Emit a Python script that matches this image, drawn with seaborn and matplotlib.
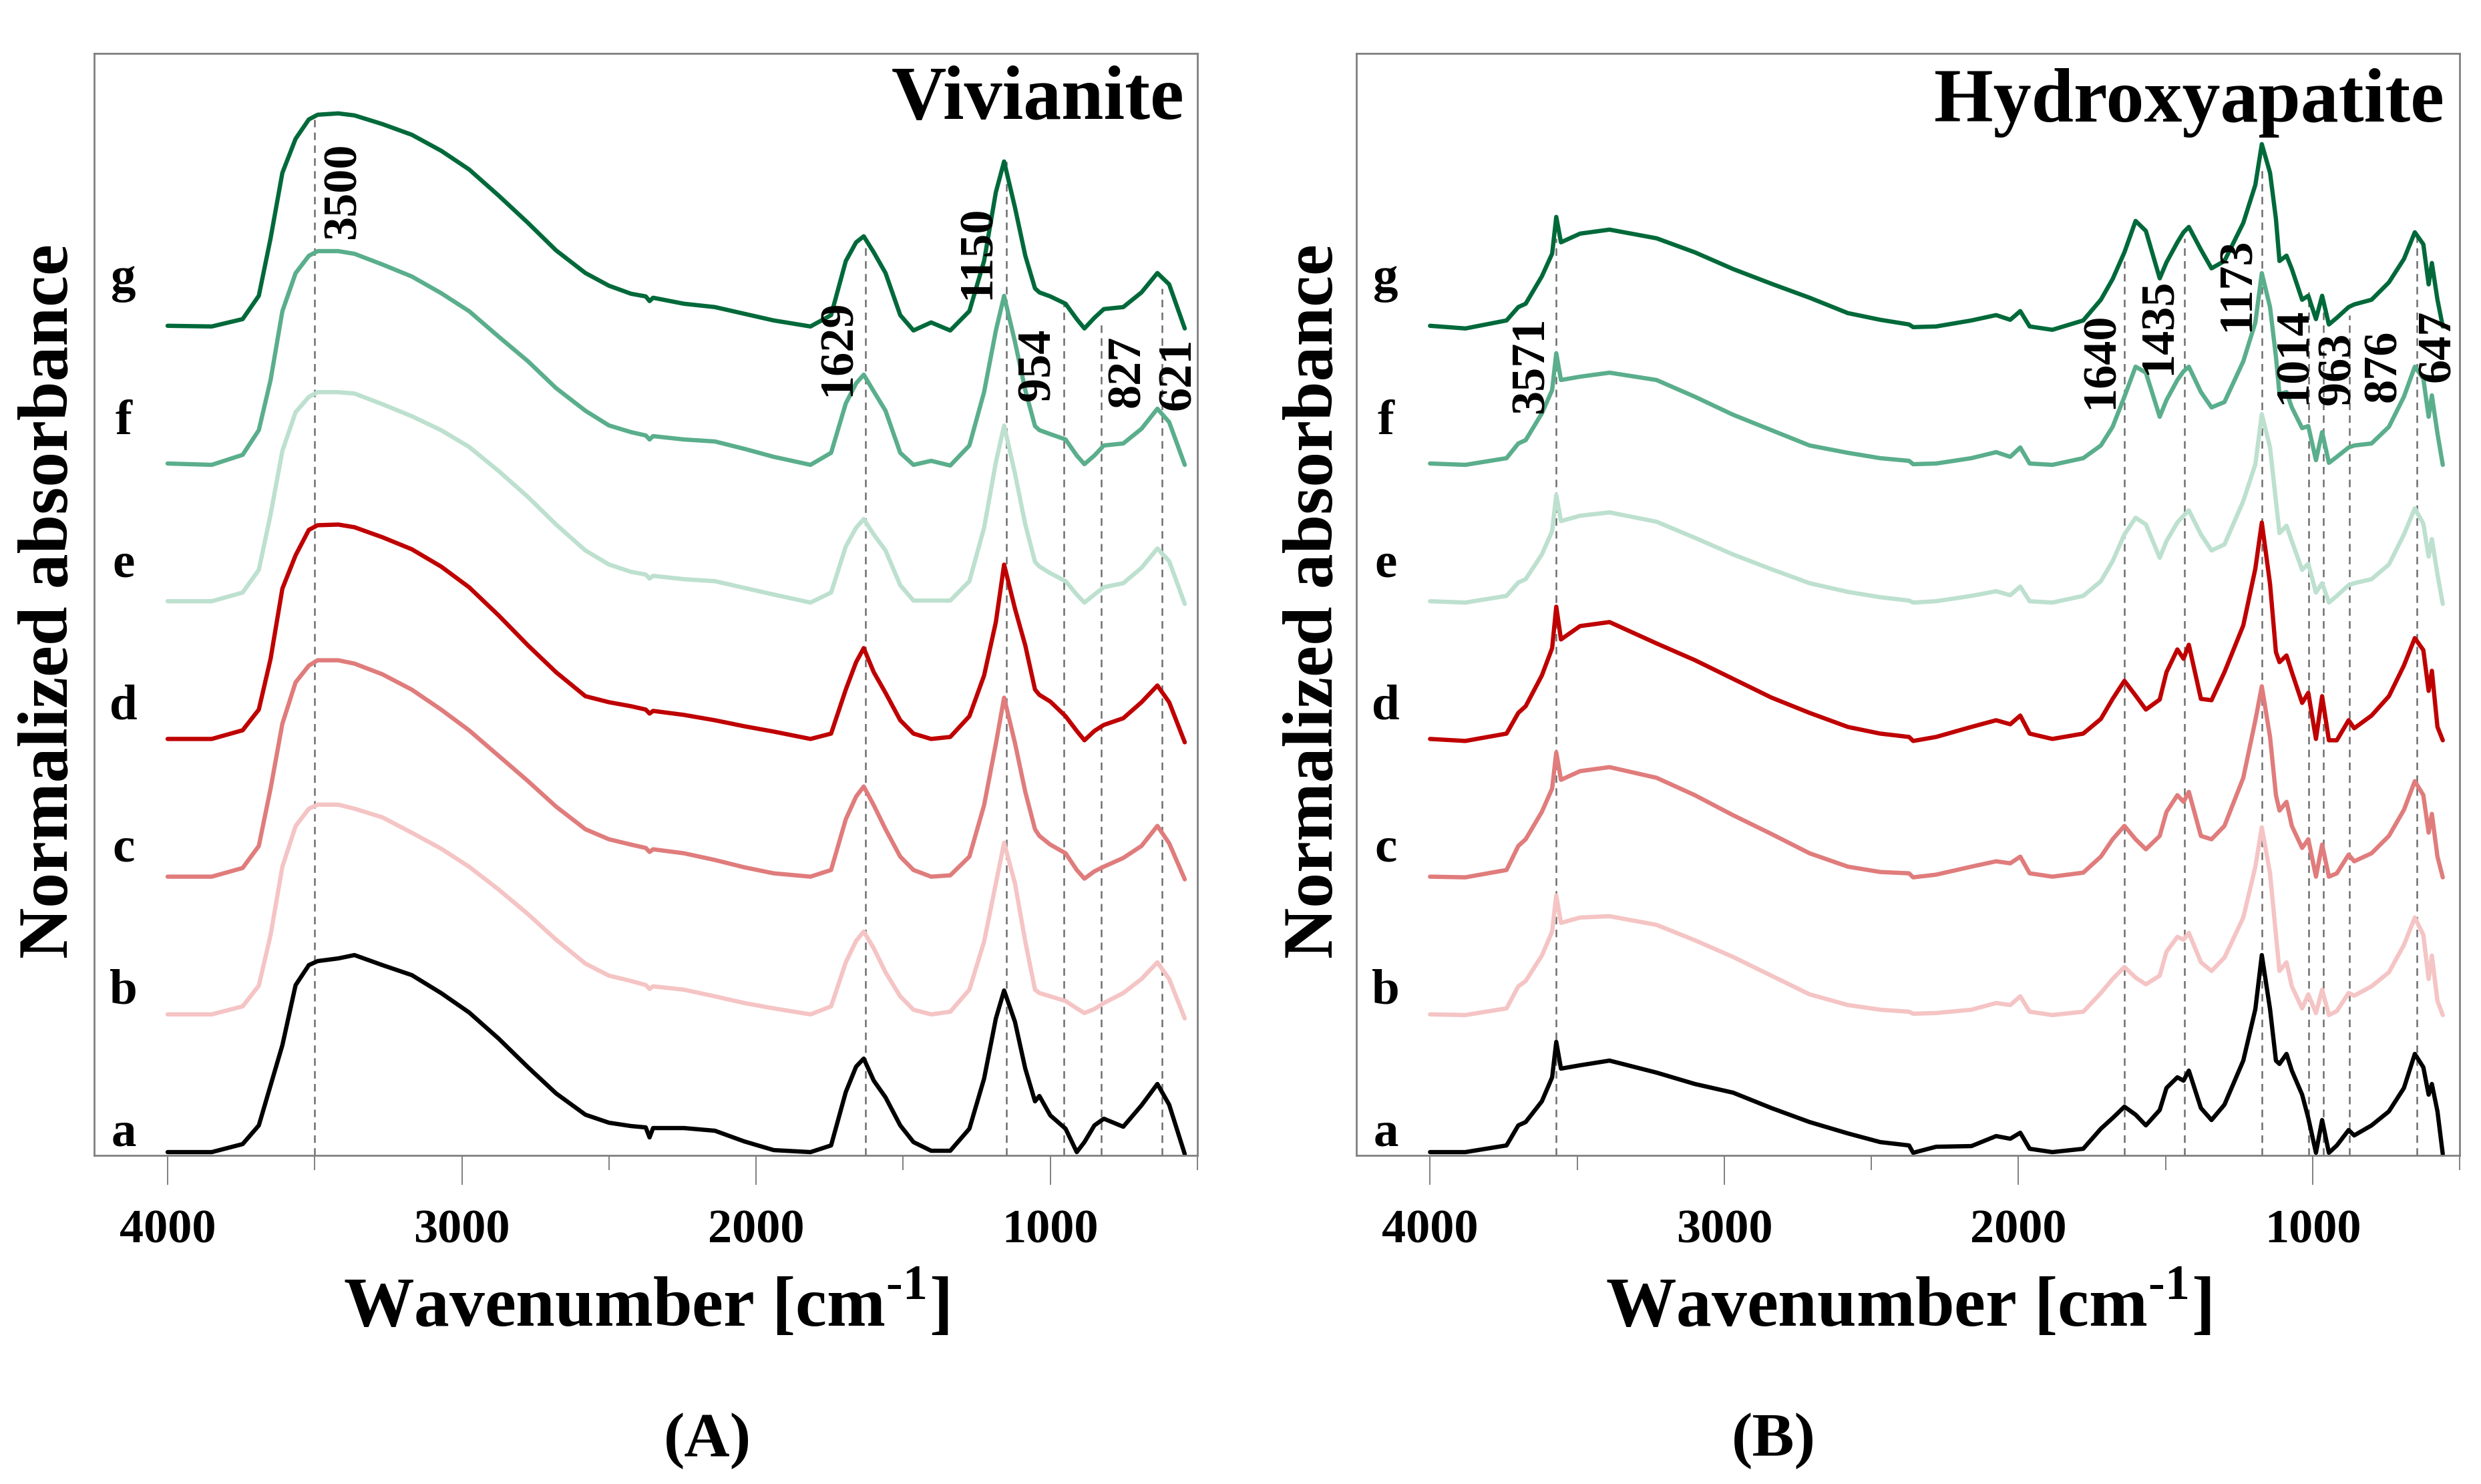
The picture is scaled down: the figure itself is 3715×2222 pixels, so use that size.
import numpy as np
import pandas as pd
import matplotlib
matplotlib.use("Agg")
import matplotlib.pyplot as plt
import seaborn as sns

# FTIR spectra. Absorbance in arbitrary units, each curve
# relative to its own baseline (the stacking offset is added when plotting).
samples = ["a", "b", "c", "d", "e", "f", "g"]
colors = ["#000000", "#f5c4c4", "#e07c7c", "#bf0000", "#bde0cf", "#5aae8c", "#00693a"]

# ---- (A) Vivianite ----
viv_wn = [4000, 3850, 3745, 3690, 3650, 3610, 3565, 3520, 3490, 3420, 3365, 3270,
          3170, 3070, 2975, 2875, 2775, 2680, 2580, 2500, 2425, 2375, 2362, 2350,
          2245, 2140, 2040, 1940, 1815, 1745, 1695, 1660, 1634, 1600, 1560, 1510,
          1465, 1405, 1340, 1275, 1225, 1185, 1157, 1120, 1085, 1052, 1037, 1000,
          948, 910, 884, 850, 818, 752, 690, 636, 596, 543]
viv_a = [0, 0, 12, 40, 100, 160, 250, 280, 286, 290, 295, 280,
         265, 238, 209, 170, 127, 88, 56, 44, 39, 37, 22, 36,
         36, 32, 16, 3, 0, 10, 90, 128, 140, 107, 82, 40,
         15, 2, 2, 35, 110, 200, 242, 195, 125, 76, 84, 55,
         35, 0, 15, 40, 50, 38, 70, 102, 71, -3]
viv_b = [0, 0, 12, 43, 119, 221, 282, 308, 314, 314, 308, 295,
         272, 248, 221, 187, 150, 112, 76, 58, 50, 44, 38, 42,
         37, 27, 17, 9, 0, 12, 78, 110, 124, 99, 63, 27,
         7, 0, 4, 37, 109, 196, 257, 196, 109, 37, 32, 27,
         20, 9, 2, 8, 17, 32, 53, 78, 53, -6]
viv_c = [0, 0, 13, 46, 132, 229, 291, 316, 324, 324, 319, 303,
         280, 250, 219, 181, 143, 105, 71, 56, 48, 43, 37, 41,
         35, 25, 14, 5, 0, 10, 86, 120, 135, 107, 71, 30,
         10, 0, 2, 30, 107, 199, 268, 200, 127, 71, 61, 48,
         35, 10, -3, 8, 15, 28, 46, 76, 50, -4]
viv_d = [0, 0, 13, 44, 120, 225, 275, 313, 320, 321, 317, 302,
         284, 258, 227, 185, 140, 100, 64, 55, 49, 44, 38, 42,
         36, 28, 19, 11, 0, 8, 74, 115, 136, 100, 69, 28,
         8, 0, 3, 34, 95, 175, 261, 195, 140, 74, 66, 56,
         34, 12, -2, 12, 21, 31, 55, 80, 55, -5]
viv_e = [0, 0, 13, 47, 130, 225, 283, 306, 313, 313, 311, 295,
         277, 256, 231, 195, 156, 115, 76, 55, 44, 40, 34, 38,
         33, 30, 20, 10, -2, 13, 82, 110, 123, 100, 76, 24,
         1, 1, 1, 30, 110, 208, 263, 191, 115, 59, 52, 42,
         30, 10, -2, 10, 21, 27, 50, 79, 60, -4]
viv_f = [0, -2, 13, 50, 125, 228, 285, 311, 318, 318, 314, 298,
         280, 255, 228, 190, 153, 113, 79, 57, 47, 42, 36, 41,
         36, 33, 22, 10, -2, 16, 90, 120, 133, 108, 79, 16,
         -2, 4, -3, 27, 107, 199, 251, 182, 110, 56, 50, 44,
         36, 12, -1, 12, 27, 30, 52, 82, 62, -2]
viv_g = [0, -1, 10, 45, 131, 229, 280, 309, 316, 318, 315, 302,
         286, 262, 234, 195, 154, 113, 79, 60, 48, 44, 37, 42,
         33, 28, 18, 8, -1, 16, 97, 125, 134, 110, 79, 16,
         -7, 5, -7, 22, 97, 200, 246, 177, 105, 56, 50, 44,
         33, 10, -4, 12, 25, 28, 50, 79, 62, -4]
viv_peaks = [3500, 1629, 1150, 954, 827, 621]

# ---- (B) Hydroxyapatite ----
hap_wn = [4000, 3880, 3740, 3700, 3675, 3620, 3585, 3571, 3555, 3490, 3390, 3230,
          3100, 2970, 2840, 2710, 2580, 2470, 2372, 2358, 2280, 2160, 2076, 2028,
          1994, 1962, 1885, 1780, 1720, 1680, 1640, 1602, 1567, 1520, 1497, 1460,
          1439, 1421, 1380, 1344, 1300, 1236, 1195, 1173, 1145, 1125, 1113, 1089,
          1071, 1036, 1015, 989, 968, 945, 918, 878, 859, 800, 741, 690,
          653, 624, 606, 595, 576, 558]
hap_a = [0, 0, 10, 40, 45, 76, 112, 165, 125, 130, 137, 119,
         102, 89, 66, 45, 28, 15, 10, -1, 8, 9, 24, 20,
         29, 5, 0, 5, 35, 51, 68, 56, 40, 63, 96, 112,
         107, 122, 66, 48, 71, 137, 214, 295, 214, 137, 132, 147,
         122, 86, 51, -1, 48, -1, 10, 33, 25, 40, 61, 96,
         147, 127, 86, 102, 61, -3]
hap_b = [0, -1, 9, 42, 50, 88, 124, 178, 137, 145, 147, 134,
         111, 86, 58, 30, 14, 7, 4, 1, 2, 7, 17, 14,
         27, 4, -1, 4, 32, 53, 71, 55, 45, 58, 94, 116,
         112, 122, 78, 65, 85, 145, 221, 280, 211, 119, 65, 78,
         42, 9, 30, 2, 37, -1, 5, 32, 28, 42, 63, 104,
         145, 119, 53, 88, 20, -1]
hap_c = [0, -1, 10, 46, 56, 97, 132, 186, 145, 158, 164, 148,
         122, 92, 64, 35, 15, 7, 5, -1, 3, 15, 23, 20,
         30, 5, 0, 6, 30, 56, 76, 56, 41, 61, 97, 122,
         112, 127, 61, 56, 76, 148, 234, 285, 209, 122, 99, 112,
         76, 43, 56, 0, 48, 0, 5, 33, 23, 35, 61, 100,
         143, 122, 66, 94, 30, -1]
hap_d = [0, -3, 8, 39, 49, 95, 136, 198, 149, 169, 175, 143,
         118, 90, 62, 39, 18, 8, 3, -3, 3, 18, 28, 22,
         35, 8, 0, 8, 30, 60, 87, 65, 44, 59, 100, 134,
         120, 141, 60, 58, 100, 170, 255, 324, 232, 130, 115, 125,
         100, 54, 69, 0, 64, -2, -2, 28, 16, 35, 64, 110,
         151, 133, 72, 102, 18, -2]
hap_e = [0, -2, 8, 28, 33, 70, 105, 159, 120, 128, 133, 119,
         95, 70, 48, 27, 14, 6, 1, -2, 0, 8, 15, 9,
         22, 0, -2, 8, 30, 60, 100, 125, 115, 65, 90, 118,
         128, 136, 100, 76, 85, 150, 205, 280, 230, 150, 102, 113,
         90, 47, 56, 13, 27, -2, 8, 24, 27, 33, 55, 100,
         139, 116, 67, 93, 40, -4]
hap_f = [0, -2, 8, 30, 35, 75, 110, 165, 125, 130, 136, 125,
         100, 73, 50, 27, 16, 8, 4, -1, 0, 8, 17, 10,
         24, 0, -2, 8, 27, 55, 100, 145, 136, 70, 95, 125,
         138, 145, 107, 84, 92, 153, 211, 285, 234, 160, 104, 107,
         84, 53, 56, 5, 47, 1, 10, 24, 27, 30, 55, 100,
         145, 127, 70, 102, 45, -2]
hap_g = [0, -4, 8, 28, 33, 74, 108, 163, 125, 138, 144, 131,
         110, 85, 63, 42, 19, 9, 2, -2, -1, 8, 16, 9,
         22, -1, -6, 8, 39, 70, 110, 157, 142, 71, 95, 125,
         140, 148, 114, 86, 97, 154, 211, 272, 229, 160, 97, 105,
         85, 39, 45, 10, 45, 2, 12, 28, 32, 39, 65, 100,
         140, 122, 62, 94, 39, -1]
hap_peaks = [3571, 1640, 1435, 1173, 1014, 963, 876, 647]

# layout: heights where the dashed guide lines stop and where the peak labels sit
viv_line_top = [1551, 1367, 1488, 1275, 1250, 1298]
viv_label_xy = [(3402, 1444), (1720, 1209), (1245, 1352), (1043, 1184), (737, 1174), (564, 1170)]
hap_line_top = [1373, 1339, 1373, 1476, 1293, 1270, 1258, 1379]
hap_label_xy = [(3655, 1183), (1720, 1190), (1522, 1241), (1257, 1304), (1064, 1197),
                (914, 1178), (757, 1182), (574, 1212)]

sns.set_theme(style="white")
plt.rcParams["font.family"] = ["Liberation Serif", "DejaVu Serif"]
plt.rcParams["mathtext.fontset"] = "custom"
plt.rcParams["mathtext.rm"] = "Liberation Serif"
plt.rcParams["mathtext.bf"] = "Liberation Serif:bold"
plt.rcParams["text.color"] = "black"
plt.rcParams["axes.labelcolor"] = "black"

fig = plt.figure(figsize=(18.58, 11.11), dpi=200)
ax1 = fig.add_axes([0.0379, 0.2214, 0.4446, 0.7426])
ax2 = fig.add_axes([0.5466, 0.2214, 0.4446, 0.7426])

STEP = 206.2


def panel(ax, wn, curves, title, title_x, title_y, peaks, tops, labels):
    frames = []
    for i, (name, vals) in enumerate(zip(samples, curves)):
        frames.append(pd.DataFrame({"wn": wn, "absorb": np.array(vals) + 5 + STEP * i,
                                    "sample": name}))
    df = pd.concat(frames, ignore_index=True)

    ax.vlines(peaks, 0, tops, colors="#6e6e6e", linestyles=(0, (4.5, 3.2)),
              linewidth=0.9, zorder=1)
    sns.lineplot(data=df, x="wn", y="absorb", hue="sample", hue_order=samples,
                 palette=dict(zip(samples, colors)), estimator=None, sort=False,
                 legend=False, linewidth=2.3, ax=ax, zorder=2)

    for p, (x, y) in zip(peaks, labels):
        ax.text(x, y, str(p), rotation=90, ha="center", va="center",
                fontsize=26, fontweight="bold", zorder=3)
    for i, name in enumerate(samples):
        ax.text(4150, 15 + 213 * i, name, ha="center", va="baseline",
                fontsize=27, fontweight="bold")
    ax.text(title_x, title_y, title, transform=ax.transAxes, ha="right",
            va="baseline", fontsize=41, fontweight="bold")

    ax.set_xlim(4250, 500)
    ax.set_ylim(0, 1650)
    ax.set_xticks([4000, 3000, 2000, 1000])
    ax.set_xticks([3500, 2500, 1500, 500], minor=True)
    ax.set_yticks([])
    ax.tick_params(axis="x", which="major", direction="out", length=16, width=0.7,
                   color="#808080", labelcolor="black", pad=13, labelsize=26, bottom=True)
    ax.tick_params(axis="x", which="minor", direction="out", length=8, width=0.7,
                   color="#808080", bottom=True)
    for lab in ax.get_xticklabels():
        lab.set_fontweight("bold")
    ax.set_xlabel(r"Wavenumber [cm$^{\text{-}\mathbf{1}}$]", fontsize=38, fontweight="bold")
    ax.xaxis.set_label_coords(0.5, -0.104)
    ax.set_ylabel("")
    for s in ax.spines.values():
        s.set_color("#808080")
        s.set_linewidth(1.0)


panel(ax1, viv_wn, [viv_a, viv_b, viv_c, viv_d, viv_e, viv_f, viv_g],
      "Vivianite", 0.988, 0.9406, viv_peaks, viv_line_top, viv_label_xy)
panel(ax2, hap_wn, [hap_a, hap_b, hap_c, hap_d, hap_e, hap_f, hap_g],
      "Hydroxyapatite", 0.986, 0.938, hap_peaks, hap_line_top, hap_label_xy)

fig.text(0.0202, 0.595, "Normalized absorbance", rotation=90, ha="center", va="center",
         fontsize=38, fontweight="bold")
fig.text(0.530, 0.595, "Normalized absorbance", rotation=90, ha="center", va="center",
         fontsize=38, fontweight="bold")
fig.text(0.285, 0.029, "(A)", ha="center", va="center", fontsize=34, fontweight="bold")
fig.text(0.7147, 0.029, "(B)", ha="center", va="center", fontsize=34, fontweight="bold")

fig.savefig("out.png", dpi=200)
